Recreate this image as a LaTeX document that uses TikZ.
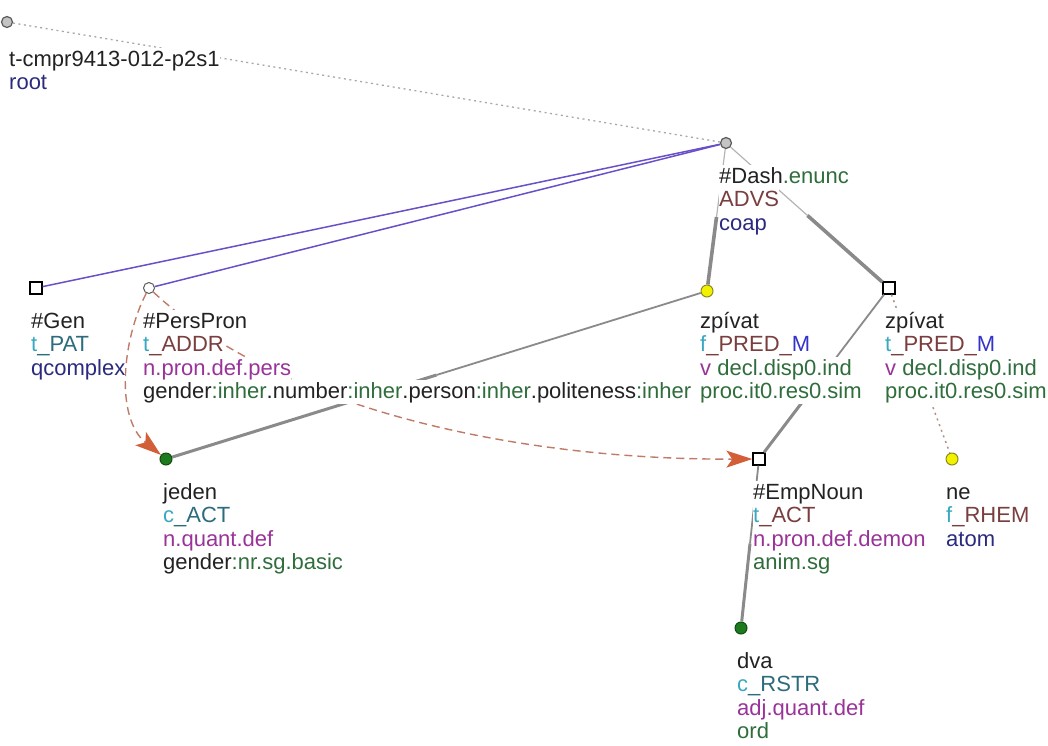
\documentclass[tikz,border=0pt]{standalone}
\usepackage{fontspec}
\setmainfont{Liberation Sans}
\usetikzlibrary{calc,arrows.meta}
\definecolor{tblack}{HTML}{222222}
\definecolor{tgreen}{HTML}{2F6E3C}
\definecolor{tbrown}{HTML}{7A3E3E}
\definecolor{tcyan}{HTML}{3AA8C0}
\definecolor{tteal}{HTML}{2C6C7C}
\definecolor{tblue}{HTML}{3333CC}
\definecolor{tnavy}{HTML}{2A2A7E}
\definecolor{tpurple}{HTML}{993399}
\definecolor{edged}{HTML}{8A8A8A}
\definecolor{edgel}{HTML}{B4B4B4}
\definecolor{violetl}{HTML}{6A50C8}
\definecolor{corefl}{HTML}{C07A68}
\definecolor{corefh}{HTML}{D25F38}
\definecolor{dotg}{HTML}{A8A8A8}
\definecolor{dotb}{HTML}{B09080}
\definecolor{nodegray}{HTML}{C4C4C4}
\definecolor{nodeedge}{HTML}{5A5A5A}
\definecolor{yelfill}{HTML}{F2F200}
\definecolor{yeledge}{HTML}{8A8A20}
\definecolor{grnfill}{HTML}{1E7A1E}
\definecolor{grnedge}{HTML}{0D4D0D}
\setlength{\fboxsep}{0pt}
\newcommand{\tline}[1]{\colorbox{white}{\rule[-5pt]{0pt}{23.5pt}#1}}
\newcommand{\cg}[1]{{\color{tgreen}#1}}
\begin{document}
\begin{tikzpicture}[x=1pt,y=-1pt,
  txt/.style={anchor=north west, inner sep=0pt, align=left, font=\fontsize{22}{23.5}\selectfont, text=tblack},
  sqnode/.style={rectangle, draw=black, fill=white, line width=1.3pt, minimum size=12pt, inner sep=0pt},
  cwhite/.style={circle, draw=nodeedge, fill=white, line width=1pt, minimum size=11pt, inner sep=0pt},
  cgray/.style={circle, draw=nodeedge, fill=nodegray, line width=1.2pt, minimum size=11pt, inner sep=0pt},
  cyel/.style={circle, draw=yeledge, fill=yelfill, line width=1pt, minimum size=12pt, inner sep=0pt},
  cgrn/.style={circle, draw=grnedge, fill=grnfill, line width=1pt, minimum size=12pt, inner sep=0pt},
  thinE/.style={draw=edgel, line width=1.2pt},
  thinD/.style={draw=edged, line width=1.8pt},
  thickE/.style={draw=edged, line width=3.6pt},
  violetE/.style={draw=violetl, line width=1.5pt},
  rootE/.style={draw=dotg, line width=1.3pt, dash pattern=on 2pt off 3.5pt},
  dotE/.style={draw=dotb, line width=1.5pt, dash pattern=on 2pt off 4pt},
  corefE/.style={draw=corefl, line width=1.4pt, dash pattern=on 8pt off 5pt,
    -{Stealth[length=26pt,width=17pt,inset=6pt,color=corefh,fill=corefh,sep=0pt]}}
]
\path[use as bounding box] (0,0) rectangle (1048,745);

% node symbols
\node[cgray]  (root) at (7,22) {};
\node[cgray]  (dash) at (726,143) {};
\node[sqnode] (gen)  at (36,288) {};
\node[cwhite] (pp)   at (149,288) {};
\node[cyel]   (zp1)  at (707,291) {};
\node[sqnode] (zp2)  at (889,288) {};
\node[cgrn]   (jed)  at (166,459) {};
\node[sqnode] (emp)  at (759,459) {};
\node[cyel]   (ne)   at (952,459) {};
\node[cgrn]   (dva)  at (741,628) {};

% edges
\draw[rootE] (root) -- (dash);
\draw[violetE] (dash) -- (gen);
\draw[violetE] (dash) -- (pp);
\draw[thinE] (dash) -- ($(dash)!.5!(zp1)$);
\draw[thickE] ($(dash)!.5!(zp1)$) -- (zp1);
\draw[thinE] (dash) -- ($(dash)!.5!(zp2)$);
\draw[thickE] ($(dash)!.5!(zp2)$) -- (zp2);
\draw[thinD] (zp1) -- ($(zp1)!.5!(jed)$);
\draw[thickE, line width=3pt] ($(zp1)!.5!(jed)$) -- (jed);
\draw[thinD] (zp2) -- ($(zp2)!.5!(emp)$);
\draw[thickE, line width=3pt] ($(zp2)!.5!(emp)$) -- (emp);
\draw[dotE] (zp2) -- (ne);
\draw[thinD] (emp) -- ($(emp)!.5!(dva)$);
\draw[thickE, line width=3pt] ($(emp)!.5!(dva)$) -- (dva);

% coreference arrows
\draw[corefE] (pp) .. controls (122,340) and (115,418) .. (jed);
\draw[corefE] (pp) .. controls (280,410) and (520,460) .. (emp);

% labels
\node[txt] (troot) at (9,47.5) {\tline{t-cmpr9413-012-p2s1}\\\tline{\color{tnavy}root}};
\node[txt] (tdash) at (719,164.5) {\tline{\#Dash\cg{.enunc}}\\\tline{\color{tbrown}ADVS}\\\tline{\color{tnavy}coap}};
\node[txt] (tgen) at (31,309.5) {\tline{\#Gen}\\\tline{{\color{tcyan}t}{\color{tteal}\_PAT}}\\\tline{\color{tnavy}qcomplex}};
\node[txt] (tpp) at (143,309.5) {\tline{\#PersPron}\\\tline{{\color{tcyan}t}{\color{tbrown}\_ADDR}}\\\tline{\color{tpurple}n.pron.def.pers}\\\tline{gender\cg{:inher}.number\cg{:inher}.person\cg{:inher}.politeness\cg{:inher}}};
\node[txt] (tzp1) at (700,309.5) {\tline{zpívat}\\\tline{{\color{tcyan}f}{\color{tbrown}\_PRED\_}{\color{tblue}M}}\\\tline{{\color{tpurple}v} \cg{decl.disp0.ind}}\\\tline{\cg{proc.it0.res0.sim}}};
\node[txt] (tzp2) at (885,309.5) {\tline{zpívat}\\\tline{{\color{tcyan}t}{\color{tbrown}\_PRED\_}{\color{tblue}M}}\\\tline{{\color{tpurple}v} \cg{decl.disp0.ind}}\\\tline{\cg{proc.it0.res0.sim}}};
\node[txt] (tjed) at (163,480.5) {\tline{jeden}\\\tline{{\color{tcyan}c}{\color{tteal}\_ACT}}\\\tline{\color{tpurple}n.quant.def}\\\tline{gender\cg{:nr.sg.basic}}};
\node[txt] (temp) at (753,480.5) {\tline{\#EmpNoun}\\\tline{{\color{tcyan}t}{\color{tbrown}\_ACT}}\\\tline{\color{tpurple}n.pron.def.demon}\\\tline{\cg{anim.sg}}};
\node[txt] (tne) at (946,480.5) {\tline{ne}\\\tline{{\color{tcyan}f}{\color{tbrown}\_RHEM}}\\\tline{\color{tnavy}atom}};
\node[txt] (tdva) at (737,649.5) {\tline{dva}\\\tline{{\color{tcyan}c}{\color{tteal}\_RSTR}}\\\tline{\color{tpurple}adj.quant.def}\\\tline{\cg{ord}}};
\end{tikzpicture}
\end{document}
